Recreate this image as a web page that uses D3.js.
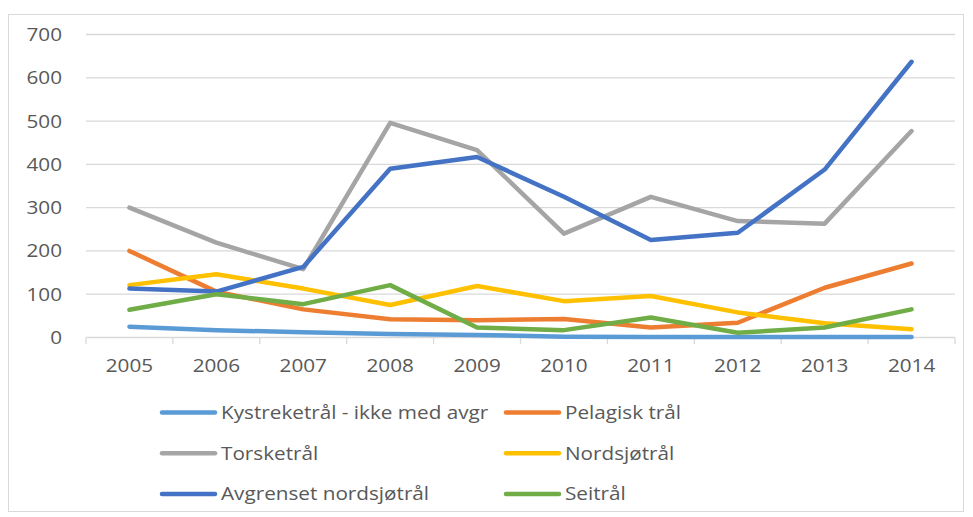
<!DOCTYPE html>
<html><head><meta charset="utf-8">
<script src="https://cdn.jsdelivr.net/npm/d3@7"></script>
<style>body{margin:0;background:#fff}svg{display:block}text{font-family:"Open Sans",sans-serif;fill:#595959}</style>
</head><body>
<script>
const years = ["2005","2006","2007","2008","2009","2010","2011","2012","2013","2014"];
const yTicks = [0,100,200,300,400,500,600,700];
const seriesNames = ["Kystreketrål - ikke med avgr","Pelagisk trål","Torsketrål","Nordsjøtrål","Avgrenset nordsjøtrål","Seitrål"];
const seriesColors = ["#5B9BD5","#ED7D31","#A5A5A5","#FFC000","#4472C4","#70AD47"];
const kystreke = [25,17,12,8,6,2,1,1,1,1];
const pelagisk = [200,106,65,42,40,43,23,34,115,171];
const torske = [300,219,158,496,433,240,325,269,263,477];
const nordsjo = [121,146,113,75,119,84,96,58,33,19];
const avgrenset = [113,106,163,390,417,325,225,242,388,637];
const seitral = [64,100,77,121,23,17,46,11,23,65];
const seriesValues = [kystreke,pelagisk,torske,nordsjo,avgrenset,seitral];

const W=973,H=517, FS=18.5, SX=1.12;
const svg=d3.select("body").append("svg").attr("width",W).attr("height",H);
svg.append("rect").attr("x",8.5).attr("y",14.5).attr("width",955).attr("height",497).attr("fill","#fff").attr("stroke","#d9d9d9");

const x=d3.scaleBand().domain(years).range([86,955]);
const y=d3.scaleLinear().domain([0,700]).range([337.5,34.5]);

function stext(g,tx,ty,anchor,str){
  return g.append("text").attr("transform",`translate(${tx},${ty}) scale(${SX},1)`)
   .attr("dy","0.35em").attr("text-anchor",anchor).attr("font-size",FS).text(str);
}

// gridlines
svg.append("g").selectAll("line").data(yTicks.filter(d=>d>0)).join("line")
 .attr("x1",86).attr("x2",955).attr("y1",d=>y(d)).attr("y2",d=>y(d))
 .attr("stroke","#d9d9d9").attr("stroke-width",1.3);
// y labels
const yl=svg.append("g");
yTicks.forEach(d=>stext(yl,62,y(d),"end",d));
// x axis
svg.append("line").attr("x1",86).attr("x2",955).attr("y1",337.5).attr("y2",337.5)
 .attr("stroke","#d9d9d9").attr("stroke-width",1.3);
const bounds=years.map(d=>x(d)).concat([x.range()[1]]);
svg.append("g").selectAll("line").data(bounds).join("line")
 .attr("x1",d=>d).attr("x2",d=>d).attr("y1",337.5).attr("y2",344)
 .attr("stroke","#d9d9d9").attr("stroke-width",1.3);
const xl=svg.append("g");
years.forEach(d=>stext(xl,x(d)+x.bandwidth()/2,366,"middle",d));

const line=d3.line().x((d,i)=>x(years[i])+x.bandwidth()/2).y(d=>y(d));
svg.append("g").selectAll("path").data(seriesValues).join("path")
 .attr("d",line).attr("fill","none").attr("stroke",(d,i)=>seriesColors[i])
 .attr("stroke-width",4.5).attr("stroke-linejoin","round").attr("stroke-linecap","round");

// legend
const lg=svg.append("g");
seriesNames.forEach((n,i)=>{
  const col=i%2,row=Math.floor(i/2);
  const lx=col===0?162:506, ly=412.5+row*40.7;
  lg.append("line").attr("x1",lx).attr("x2",lx+53).attr("y1",ly).attr("y2",ly)
   .attr("stroke",seriesColors[i]).attr("stroke-width",4.5).attr("stroke-linecap","round");
  stext(lg,lx+59,ly,"start",n);
});
</script>
</body></html>
